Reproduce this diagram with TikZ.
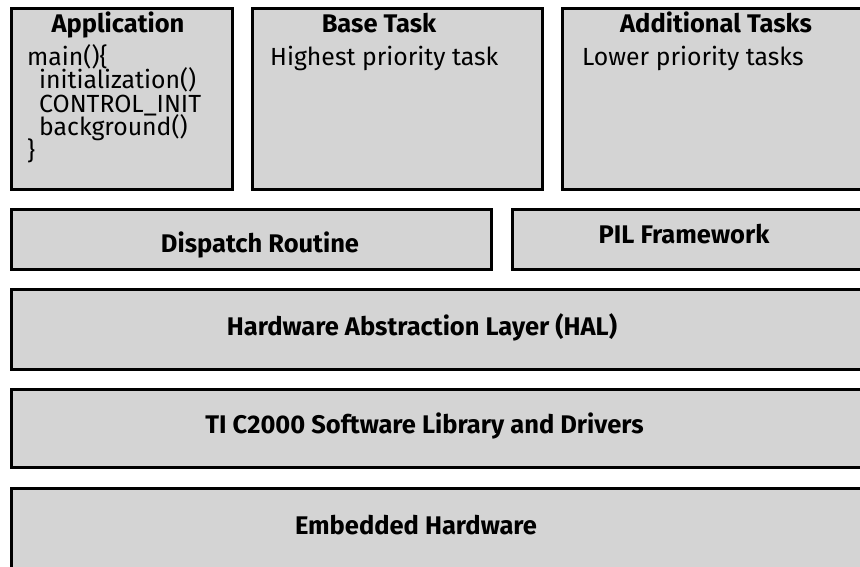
\documentclass[tikz,border=0pt]{standalone}
\usepackage{fontspec}
\setmainfont{Fira Sans}
\definecolor{boxgray}{HTML}{D4D4D4}
\begin{document}
\begin{tikzpicture}[x=1pt,y=-1pt,
  layer/.style={draw=black, line width=3pt, fill=boxgray, inner sep=0pt},
  head/.style={font=\fontsize{25.5}{28}\selectfont\bfseries, anchor=base, inner sep=0pt},
  body/.style={font=\fontsize{24.8}{28}\selectfont, anchor=base west, inner sep=0pt}]
\useasboundingbox (0,0) rectangle (860,566);
% boxes
\node[layer, minimum width=221pt, minimum height=180.5pt] (app) at (121.5,98.75) {};
\node[layer, minimum width=290pt, minimum height=180.5pt] (base) at (397,98.75) {};
\node[layer, minimum width=308pt, minimum height=180.5pt] (add) at (716,98.75) {};
\node[layer, minimum width=480pt, minimum height=60pt] (disp) at (251,239) {};
\node[layer, minimum width=358pt, minimum height=60pt] (pil) at (691,239) {};
\node[layer, minimum width=859pt, minimum height=80pt] (hal) at (440.5,329) {};
\node[layer, minimum width=859pt, minimum height=78pt] (ti) at (440.5,428) {};
\node[layer, minimum width=859pt, minimum height=92pt] (emb) at (440.5,534) {};
% texts
\node[head] (apphead) at (118,32) {Application};
\node[body] (l1) at (27,65) {main()\{};
\node[body] (l2) at (39,88.5) {initialization()};
\node[body] (l3) at (39,112) {CONTROL\_INIT};
\node[body] (l4) at (39,135.5) {background()};
\node[body] (l5) at (27,159) {\}};
\node[head] (basehead) at (379,32) {Base Task};
\node[body] (basetext) at (270,65) {Highest priority task};
\node[head] (addhead) at (716,32) {Additional Tasks};
\node[body] (addtext) at (582,65) {Lower priority tasks};
\node[head] (disptext) at (260,252) {Dispatch Routine};
\node[head] (piltext) at (684,243) {PIL Framework};
\node[head] (haltext) at (422,335) {Hardware Abstraction Layer (HAL)};
\node[head] (titext) at (424.5,433) {TI C2000 Software Library and Drivers};
\node[head] (embtext) at (416,534) {Embedded Hardware};
\end{tikzpicture}
\end{document}
